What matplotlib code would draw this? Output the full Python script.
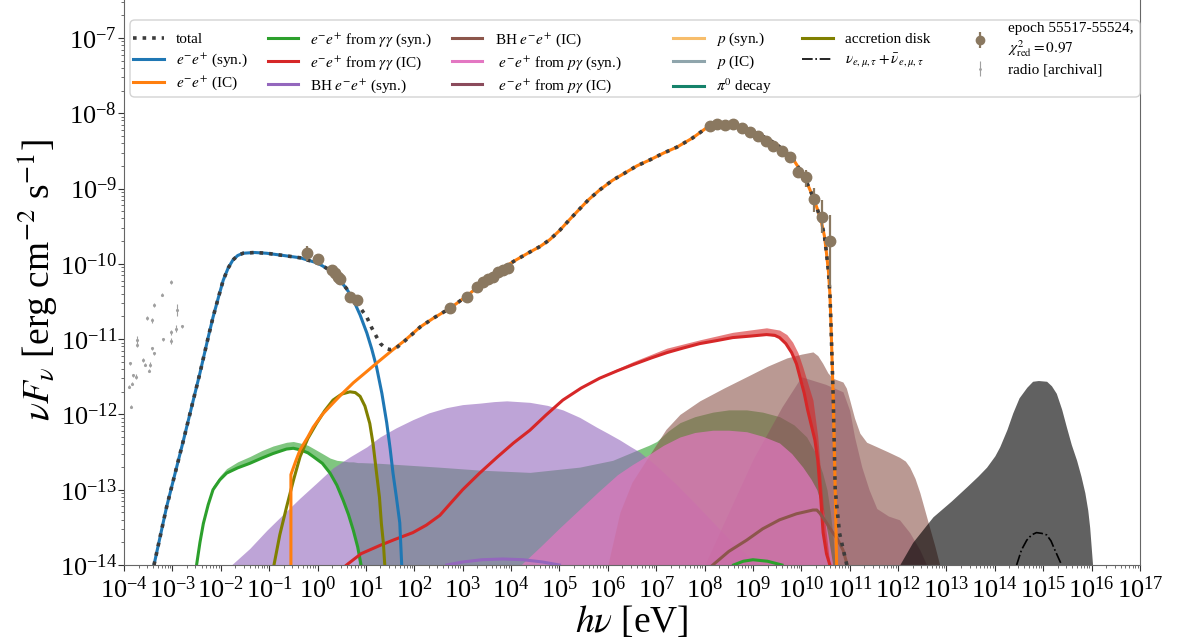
import numpy as np
import matplotlib
matplotlib.use('Agg')
from matplotlib import pyplot as plt
from matplotlib.lines import Line2D
from matplotlib.patches import FancyBboxPatch

plt.rcParams['font.family'] = ['Liberation Serif', 'DejaVu Serif']
plt.rcParams['mathtext.fontset'] = 'stix'

# Valores: log10(E/eV) , log10(nuFnu / erg cm^-2 s^-1)

# e-e+ sincrotron
sync_lE = [-3.38, -3.12, -2.77, -2.43, -2.25, -2.16, -2.05, -1.95, -1.85, -1.75, -1.65, -1.54, -1.30,
           -1.05, -0.70, -0.36, 0.00, 0.19, 0.35, 0.46, 0.60, 0.74, 0.88, 1.02, 1.12, 1.22, 1.33,
           1.43, 1.50, 1.56, 1.63, 1.70, 1.74]
sync_lF = [-14.0, -13.23, -12.34, -11.45, -10.95, -10.71, -10.45, -10.22, -10.06, -9.95, -9.89, -9.86,
           -9.85, -9.86, -9.89, -9.92, -9.99, -10.06, -10.14, -10.22, -10.33, -10.48, -10.68, -10.92,
           -11.13, -11.37, -11.72, -12.11, -12.45, -12.78, -13.10, -13.44, -14.0]

# e-e+ IC
ic_lE = [-0.55, -0.55, -0.45, -0.36, -0.20, -0.09, 0.10, 0.32, 0.50, 0.74, 1.00, 1.22, 1.56, 1.80,
         2.12, 2.40, 2.74, 3.10, 3.40, 3.77, 4.10, 4.40, 4.60, 4.80, 5.00, 5.20, 5.42, 5.60, 5.83,
         6.10, 6.39, 6.60, 6.87, 7.15, 7.43, 7.75, 8.05, 8.30, 8.58, 8.79, 9.00, 9.28, 9.50, 9.70,
         9.85, 9.97, 10.10, 10.24, 10.33, 10.42, 10.48, 10.52, 10.56, 10.59, 10.61, 10.66, 10.70, 10.73]
ic_lF = [-14.0, -12.80, -12.62, -12.47, -12.30, -12.17, -12.00, -11.85, -11.73, -11.58, -11.44, -11.32,
         -11.14, -11.02, -10.84, -10.72, -10.59, -10.42, -10.26, -10.08, -9.95, -9.84, -9.77, -9.68,
         -9.56, -9.42, -9.27, -9.15, -9.02, -8.89, -8.78, -8.70, -8.62, -8.53, -8.45, -8.33, -8.19,
         -8.15, -8.14, -8.20, -8.25, -8.33, -8.42, -8.53, -8.63, -8.75, -8.90, -9.11, -9.27, -9.46,
         -9.64, -9.86, -10.10, -10.39, -10.75, -11.80, -13.00, -14.0]

# total (sigue sync hasta 0.19 y luego IC desde 2.12)
tot_dip_lE = [0.32, 0.50, 0.74, 0.90, 1.02, 1.12, 1.22, 1.30, 1.40, 1.50, 1.60, 1.76, 1.95]
tot_dip_lF = [-10.12, -10.25, -10.44, -10.60, -10.71, -10.85, -10.97, -11.06, -11.12, -11.14, -11.13,
              -11.05, -10.94]
tot_tail_lE = [10.79, 10.94]
tot_tail_lF = [-13.58, -14.0]

# e-e+ de gamma-gamma (syn.) linea y banda
ggs_lE = [-2.50, -2.43, -2.36, -2.26, -2.16, -2.02, -1.88, -1.65, -1.40, -1.15, -0.92, -0.64, -0.50,
          -0.36, -0.20, -0.09, 0.10, 0.26, 0.40, 0.53, 0.64, 0.74, 0.83, 0.90]
ggs_lF = [-14.0, -13.70, -13.45, -13.20, -13.00, -12.87, -12.78, -12.71, -12.65, -12.58, -12.52,
          -12.46, -12.45, -12.47, -12.51, -12.56, -12.65, -12.78, -12.94, -13.14, -13.33, -13.54,
          -13.76, -14.0]
ggs_band_hi_lo = [-14.0, -13.66, -13.42, -13.16, -12.95, -12.82, -12.72, -12.63, -12.56, -12.48,
                  -12.42, -12.37, -12.36, -12.38, -12.41, -12.45, -12.52, -12.58, -12.61, -12.62,
                  -12.63, -12.63, -12.64, -12.64]
ggs_band_hE = [1.29, 2.50, 3.36, 4.39, 5.42, 6.10, 6.40, 6.66, 6.85, 7.01, 7.25, 7.49, 7.80, 8.17,
               8.50, 8.87, 9.20, 9.55, 9.85, 10.11, 10.30, 10.44, 10.53, 10.60, 10.66, 10.70]
ggs_band_hi_hE = [-12.65, -12.70, -12.74, -12.77, -12.70, -12.61, -12.53, -12.46, -12.41, -12.36,
                  -12.22, -12.11, -12.03, -11.97, -11.94, -11.94, -11.97, -12.03, -12.14, -12.30,
                  -12.52, -12.78, -13.00, -13.30, -13.65, -14.0]

# e-e+ de gamma-gamma (IC) linea y banda
ggi_lE = [0.60, 0.90, 1.29, 1.60, 1.97, 2.25, 2.53, 2.75, 3.00, 3.35, 3.71, 4.05, 4.39, 4.72, 5.07,
          5.45, 5.83, 6.20, 6.52, 6.90, 7.22, 7.55, 7.90, 8.25, 8.58, 8.95, 9.28, 9.45, 9.55, 9.68,
          9.80, 9.90, 9.97, 10.06, 10.13, 10.22, 10.28, 10.34, 10.40, 10.45, 10.52, 10.59]
ggi_lF = [-14.0, -13.85, -13.74, -13.66, -13.57, -13.47, -13.34, -13.18, -13.00, -12.78, -12.57,
          -12.38, -12.21, -12.01, -11.81, -11.65, -11.52, -11.42, -11.34, -11.25, -11.18, -11.12,
          -11.06, -11.02, -10.98, -10.96, -10.94, -10.95, -10.98, -11.06, -11.18, -11.33, -11.50,
          -11.72, -11.94, -12.18, -12.34, -12.61, -13.10, -13.57, -13.85, -14.0]
ggi_band_lE = [5.83, 6.52, 7.22, 7.90, 8.58, 9.28, 9.55, 9.70, 9.82, 9.93, 10.03, 10.13, 10.24, 10.34,
               10.45, 10.59]
ggi_band_lo = [-11.52, -11.34, -11.18, -11.06, -10.98, -10.94, -10.98, -11.08, -11.20, -11.40, -11.60,
               -11.94, -12.20, -12.61, -13.57, -14.0]
ggi_band_hi = [-11.50, -11.30, -11.12, -11.01, -10.91, -10.85, -10.88, -10.94, -11.04, -11.18, -11.37,
               -11.58, -11.81, -12.30, -13.20, -14.0]

# BH e-e+ (syn.)
bhs_band_lE = [-1.78, -1.40, -1.05, -0.70, -0.36, 0.00, 0.32, 0.68, 1.02, 1.29, 1.62, 1.97, 2.30, 2.67,
               3.00, 3.36, 3.65, 3.91, 4.15, 4.39, 4.75, 5.07, 5.42, 5.77, 6.00, 6.25, 6.45, 6.66, 7.00,
               7.40, 7.80, 8.20, 8.60, 9.14]
bhs_band_hi = [-14.0, -13.78, -13.54, -13.32, -13.11, -12.90, -12.71, -12.56, -12.43, -12.30, -12.18,
               -12.07, -11.98, -11.91, -11.87, -11.85, -11.83, -11.82, -11.83, -11.84, -11.88, -11.94,
               -12.04, -12.17, -12.25, -12.34, -12.42, -12.50, -12.68, -12.92, -13.18, -13.45, -13.72,
               -14.0]
bhs_lE = [2.67, 3.00, 3.40, 3.83, 4.25, 4.65, 5.00]
bhs_lF = [-14.0, -13.96, -13.93, -13.92, -13.93, -13.96, -14.0]

# BH e-e+ (IC)
bhi_band_lE = [6.00, 6.25, 6.50, 6.90, 7.20, 7.49, 7.90, 8.40, 8.93, 9.30, 9.70, 10.00, 10.24, 10.34,
               10.44, 10.55, 10.65, 10.86, 10.93, 11.00, 11.10, 11.21, 11.35, 11.56, 11.80, 12.03,
               12.15, 12.24, 12.35, 12.45, 12.55, 12.65, 12.76, 12.86]
bhi_band_hi = [-14.0, -13.30, -12.90, -12.50, -12.20, -12.00, -11.82, -11.65, -11.48, -11.36, -11.25,
               -11.20, -11.17, -11.22, -11.32, -11.45, -11.52, -11.57, -11.65, -11.81, -12.05, -12.25,
               -12.37, -12.43, -12.50, -12.57, -12.62, -12.70, -12.85, -13.04, -13.27, -13.50, -13.75,
               -14.0]
bhi_lE = [8.17, 8.50, 8.87, 9.20, 9.55, 9.90, 10.24, 10.32, 10.38, 10.50, 10.65, 10.75, 10.86, 10.95]
bhi_lF = [-14.0, -13.82, -13.67, -13.52, -13.40, -13.32, -13.27, -13.27, -13.31, -13.42, -13.57,
          -13.66, -13.80, -14.0]

# e-e+ de p-gamma (syn.) y (IC)
pgs_band_lE = [4.20, 4.60, 5.00, 5.40, 5.80, 6.20, 6.50, 6.81, 7.15, 7.49, 7.80, 8.17, 8.50, 8.87,
               9.20, 9.55, 9.80, 10.03, 10.20, 10.32, 10.45, 10.55, 10.65]
pgs_band_hi = [-14.0, -13.76, -13.51, -13.27, -13.03, -12.80, -12.67, -12.55, -12.41, -12.30, -12.24,
               -12.21, -12.21, -12.23, -12.29, -12.38, -12.52, -12.70, -12.86, -13.00, -13.28, -13.60,
               -14.0]
pgi_band_lE = [8.00, 9.00, 9.60, 10.00, 10.50, 10.86, 11.00, 11.10, 11.25, 11.40, 11.56, 11.80, 12.03,
               12.24, 12.45, 12.59]
pgi_band_hi = [-14.0, -12.60, -11.90, -11.50, -11.60, -11.70, -11.95, -12.30, -12.70, -13.00, -13.25,
               -13.35, -13.40, -13.57, -13.80, -14.0]

# pi0 decay
pi0_lE = [8.60, 8.80, 9.00, 9.30, 9.60]
pi0_lF = [-14.0, -13.95, -13.93, -13.95, -14.0]

# disco de acrecion
disk_lE = [-0.90, -0.78, -0.64, -0.50, -0.36, -0.20, -0.02, 0.15, 0.32, 0.50, 0.67, 0.78, 0.88, 0.98,
           1.08, 1.15, 1.22, 1.28, 1.32, 1.36, 1.39]
disk_lF = [-14.0, -13.60, -13.23, -12.88, -12.56, -12.32, -12.12, -11.95, -11.81, -11.73, -11.70,
           -11.71, -11.76, -11.89, -12.12, -12.40, -12.78, -13.10, -13.45, -13.70, -14.0]

# neutrinos
nu_band_lE = [12.03, 12.30, 12.72, 13.10, 13.42, 13.65, 13.83, 14.00, 14.10, 14.25, 14.37, 14.50, 14.66,
              14.78, 14.90, 15.07, 15.17, 15.27, 15.38, 15.48, 15.58, 15.69, 15.78, 15.86, 15.92,
              15.96, 15.99, 16.02]
nu_band_hi = [-14.0, -13.70, -13.36, -13.15, -12.96, -12.82, -12.70, -12.55, -12.43, -12.20, -11.98,
              -11.78, -11.64, -11.56, -11.55, -11.56, -11.62, -11.72, -11.93, -12.17, -12.40, -12.61,
              -12.82, -13.04, -13.27, -13.50, -13.75, -14.0]
nu_lE = [14.45, 14.55, 14.66, 14.76, 14.86, 14.97, 15.07, 15.16, 15.24, 15.31, 15.38]
nu_lF = [-14.0, -13.80, -13.67, -13.60, -13.57, -13.58, -13.60, -13.68, -13.80, -13.90, -14.0]

# datos epoch 55517-55524
obs_lE = [-0.22, 0.01, 0.30, 0.36, 0.42, 0.46, 0.67, 0.81, 2.74, 3.09, 3.29, 3.42, 3.52, 3.62, 3.73,
          3.83, 3.93, 8.11, 8.25, 8.42, 8.58, 8.77, 8.93, 9.10, 9.26, 9.41, 9.60, 9.76, 9.93, 10.09,
          10.26, 10.42, 10.59]
obs_lF = [-9.86, -9.94, -10.08, -10.12, -10.18, -10.20, -10.44, -10.48, -10.59, -10.44, -10.31, -10.24,
          -10.20, -10.18, -10.11, -10.08, -10.06, -8.17, -8.14, -8.16, -8.14, -8.20, -8.25, -8.30, -8.37,
          -8.44, -8.50, -8.58, -8.78, -8.85, -9.14, -9.38, -9.70]
obs_err_dn = [0.10, 0.07, 0.03, 0.03, 0.03, 0.03, 0.03, 0.03, 0.02, 0.02, 0.02, 0.02, 0.02, 0.02, 0.02,
              0.02, 0.04, 0.02, 0.02, 0.02, 0.02, 0.02, 0.02, 0.02, 0.02, 0.03, 0.03, 0.04, 0.06, 0.13,
              0.17, 0.21, 0.61]
obs_err_up = [0.10, 0.07, 0.03, 0.03, 0.03, 0.03, 0.03, 0.03, 0.02, 0.02, 0.02, 0.02, 0.02, 0.02, 0.02,
              0.02, 0.02, 0.02, 0.02, 0.02, 0.02, 0.02, 0.02, 0.02, 0.02, 0.03, 0.03, 0.04, 0.06, 0.09,
              0.15, 0.23, 0.35]

# radio archivo
radio_lE = [-3.02, -3.22, -3.39, -3.53, -3.43, -2.90, -2.81, -2.93, -3.02, -3.19, -3.02, -3.74, -3.74,
            -3.43, -3.39, -3.60, -3.46, -3.57, -3.48, -3.88, -3.81, -3.75, -3.84, -3.86, -3.89]
radio_lF = [-10.24, -10.41, -10.55, -10.72, -10.75, -10.61, -10.83, -10.86, -10.91, -11.00, -11.03,
            -11.01, -11.08, -11.12, -11.19, -11.28, -11.34, -11.34, -11.42, -11.32, -11.48, -11.50,
            -11.59, -11.90, -11.63]
radio_err = [0.03, 0.02, 0.03, 0.03, 0.03, 0.08, 0.02, 0.05, 0.03, 0.02, 0.04, 0.05, 0.03, 0.02, 0.02,
             0.03, 0.03, 0.02, 0.02, 0.02, 0.02, 0.03, 0.02, 0.02, 0.02]

# ticks mayores del eje y
y_ticks = [1e-14, 1e-13, 1e-12, 1e-11, 1e-10, 1e-9, 1e-8, 1e-7]


def L(a):
    return 10.0**np.asarray(a, dtype=float)


fw, fh = 1179.0, 644.0
fig = plt.figure(figsize=(11.79, 6.44), dpi=100)
ax = fig.add_axes([124 / fw, 79 / fh, 1016 / fw, 569 / fh])

# banda gamma-gamma syn: baja energia sobre la linea, alta energia desde abajo
gb_x = ggs_lE + ggs_band_hE
gb_lo = ggs_lF[:-1] + [-15.0] * (len(ggs_band_hE) + 1)
gb_hi = ggs_band_hi_lo + ggs_band_hi_hE
ax.fill_between(L(gb_x), L(gb_lo), L(gb_hi), color='tab:green', alpha=0.6, lw=0, zorder=1)
ax.fill_between(L(bhs_band_lE), 1e-15, L(bhs_band_hi), color='tab:purple', alpha=0.6, lw=0, zorder=1.1)
ax.fill_between(L(bhi_band_lE), 1e-15, L(bhi_band_hi), color='tab:brown', alpha=0.6, lw=0, zorder=1.2)
ax.fill_between(L(pgi_band_lE), 1e-15, L(pgi_band_hi), color='#8b4b5c', alpha=0.45, lw=0, zorder=1.3)
ax.fill_between(L(pgs_band_lE), 1e-15, L(pgs_band_hi), color='tab:pink', alpha=0.72, lw=0, zorder=1.4)
ax.fill_between(L(ggi_band_lE), L(ggi_band_lo), L(ggi_band_hi), color='tab:red', alpha=0.6, lw=0, zorder=1.5)
ax.fill_between(L(nu_band_lE), 1e-15, L(nu_band_hi), color='k', alpha=0.62, lw=0, zorder=1.6)

# lineas
lw = 2.2
ax.plot(L(ggs_lE), L(ggs_lF), color='tab:green', lw=lw, zorder=3)
ax.plot(L(ggi_lE), L(ggi_lF), color='tab:red', lw=lw, zorder=3)
ax.plot(L(bhs_lE), L(bhs_lF), color='tab:purple', lw=lw, zorder=3)
ax.plot(L(bhi_lE), L(bhi_lF), color='tab:brown', lw=lw, zorder=3)
ax.plot(L(pi0_lE), L(pi0_lF), color='tab:green', lw=lw, zorder=3)
ax.plot(L(disk_lE), L(disk_lF), color='olive', lw=lw, zorder=3)
ax.plot(L(sync_lE), L(sync_lF), color='tab:blue', lw=lw, zorder=3.2)
ax.plot(L(ic_lE), L(ic_lF), color='tab:orange', lw=lw, zorder=3.2)
ax.plot(L(nu_lE), L(nu_lF), color='k', lw=1.2, ls='-.', zorder=3)

n_s = sync_lE.index(0.19) + 1
n_i = ic_lE.index(2.12)
tot_lE = sync_lE[:n_s] + tot_dip_lE + ic_lE[n_i:-1] + tot_tail_lE
tot_lF = sync_lF[:n_s] + tot_dip_lF + ic_lF[n_i:-1] + tot_tail_lF
ax.plot(L(tot_lE), L(tot_lF), color='#3c3c3c', lw=2.6, ls=':', zorder=3.5)

# datos
F = L(obs_lF)
yerr = [F - F * L(-np.asarray(obs_err_dn)), F * L(obs_err_up) - F]
h_obs = ax.errorbar(L(obs_lE), F, yerr=yerr, fmt='o', color='#8a7860', ms=7.5, elinewidth=1.6, zorder=4)
Fr = L(radio_lF)
h_radio = ax.errorbar(L(radio_lE), Fr, yerr=[Fr - Fr * L(-np.asarray(radio_err)), Fr * L(radio_err) - Fr],
                      fmt='.', color='#a0a0a0', ms=2.5, elinewidth=0.8, zorder=4)

ax.set_xscale('log')
ax.set_yscale('log')
ax.set_xlim(1e-4, 1e17)
ax.set_ylim(1e-14, 10**(-14 + 569 / 75.3))
ax.set_yticks(y_ticks)
ax.xaxis.set_major_locator(matplotlib.ticker.LogLocator(base=10, numticks=30))
ax.xaxis.set_minor_locator(matplotlib.ticker.LogLocator(base=10, subs=np.arange(2, 10), numticks=30))
ax.xaxis.set_minor_formatter(matplotlib.ticker.NullFormatter())
ax.yaxis.set_minor_formatter(matplotlib.ticker.NullFormatter())
ax.tick_params(which='major', labelsize=19, length=4, width=0.8, pad=1, colors='#333333', labelcolor='k')
ax.tick_params(which='minor', length=2.5, width=0.6, colors='#555555')
ax.tick_params(axis='x', which='major', pad=4)
for s in ax.spines.values():
    s.set_color('#666666')

ax.set_xlabel(r'$h\nu$ [eV]', fontsize=27, labelpad=1)
ax.set_ylabel(r'$\nu F_{\nu}$ [erg cm$^{-2}$ s$^{-1}$]', fontsize=27, labelpad=0)

# leyenda: marco manual y tres bloques
frame = FancyBboxPatch((130 / fw, 1 - 97 / fh), 1010 / fw, 77 / fh,
                       boxstyle='round,pad=0,rounding_size=0.004', mutation_aspect=fw / fh,
                       transform=fig.transFigure, facecolor='white', edgecolor='#cccccc',
                       alpha=0.85, lw=1.0, zorder=2)
fig.patches.append(frame)

handles_a = [
    Line2D([], [], color='#3c3c3c', ls=':', lw=2.6, label='total'),
    Line2D([], [], color='tab:blue', lw=lw, label=r'$e^{-}e^{+}$ (syn.)'),
    Line2D([], [], color='tab:orange', lw=lw, label=r'$e^{-}e^{+}$ (IC)'),
    Line2D([], [], color='tab:green', lw=lw, label=r'$e^{-}e^{+}$ from $\gamma\gamma$ (syn.)'),
    Line2D([], [], color='tab:red', lw=lw, label=r'$e^{-}e^{+}$ from $\gamma\gamma$ (IC)'),
    Line2D([], [], color='tab:purple', lw=lw, label=r'BH $e^{-}e^{+}$ (syn.)'),
    Line2D([], [], color='tab:brown', lw=lw, label=r'BH $e^{-}e^{+}$ (IC)'),
    Line2D([], [], color='tab:pink', lw=lw, label=r' $e^{-}e^{+}$ from $p\gamma$ (syn.)'),
    Line2D([], [], color='#8b4b5c', lw=lw, label=r' $e^{-}e^{+}$ from $p\gamma$ (IC)'),
]
handles_b = [
    Line2D([], [], color='#f7bd6b', lw=lw, label=r'$p$ (syn.)'),
    Line2D([], [], color='#8fa5ac', lw=lw, label=r'$p$ (IC)'),
    Line2D([], [], color='#15826a', lw=lw, label=r'$\pi^{0}$ decay'),
    Line2D([], [], color='olive', lw=lw, label='accretion disk'),
    Line2D([], [], color='k', lw=1.2, ls='-.', label=r'$\nu_{e,\mu,\tau}+\bar{\nu}_{e,\mu,\tau}$'),
]
leg_kw = dict(loc='upper left', fontsize=11, frameon=False, borderpad=0, borderaxespad=0,
              labelspacing=0.35, handletextpad=0.8)
fig.legend(handles=handles_a, ncol=3, bbox_to_anchor=(133 / fw, 1 - 31 / fh), columnspacing=1.3, **leg_kw)
fig.legend(handles=handles_b, ncol=2, bbox_to_anchor=(673 / fw, 1 - 31 / fh), columnspacing=2.0, **leg_kw)
fig.legend([h_obs, h_radio], ['epoch 55517-55524,\n' + r'$\chi^{2}_{\rm red} = 0.97$', 'radio [archival]'],
           loc='upper left', bbox_to_anchor=(965 / fw, 1 - 22 / fh), fontsize=11, frameon=False,
           borderpad=0, borderaxespad=0, labelspacing=0.3, handletextpad=0.8, markerscale=0.8)

fig.savefig('out.png', dpi=100)
